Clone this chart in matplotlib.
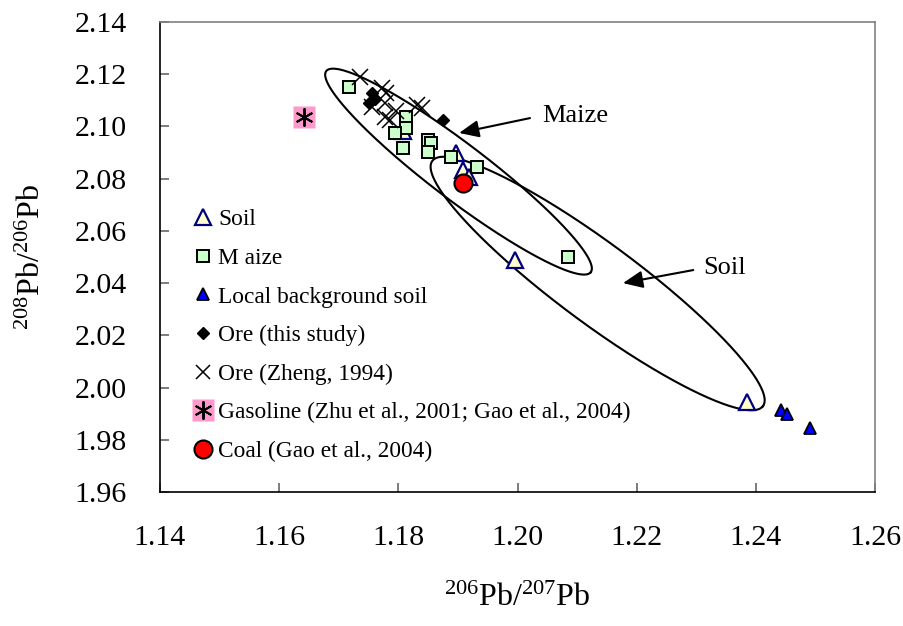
import numpy as np
import matplotlib
matplotlib.use('Agg')
import matplotlib.pyplot as plt
from matplotlib.lines import Line2D
from matplotlib.legend_handler import HandlerTuple

plt.rcParams['font.family'] = ['Liberation Serif', 'DejaVu Serif']
plt.rcParams['mathtext.fontset'] = 'custom'
plt.rcParams['mathtext.rm'] = 'Liberation Serif'
plt.rcParams['mathtext.it'] = 'Liberation Serif:italic'
plt.rcParams['mathtext.bf'] = 'Liberation Serif:bold'

# ---------------- data ----------------
soil_x = [1.1896, 1.1909, 1.1919, 1.1808, 1.1996, 1.2386]
soil_y = [2.0897, 2.0835, 2.0808, 2.0983, 2.0488, 1.9946]

maize_x = [1.1718, 1.1813, 1.1813, 1.1794, 1.1807, 1.1849, 1.1854, 1.1850, 1.1888, 1.1932, 1.2085]
maize_y = [2.1152, 2.1037, 2.0993, 2.0976, 2.0916, 2.0948, 2.0938, 2.0901, 2.0884, 2.0846, 2.0501]

local_x = [1.2442, 1.2453, 1.2491]
local_y = [1.9915, 1.9899, 1.9845]

ore_x = [1.1756, 1.1761, 1.1751, 1.1875]
ore_y = [2.1128, 2.1105, 2.1090, 2.1025]

zheng_x = [1.1736, 1.1772, 1.1780, 1.1755, 1.1778, 1.1778, 1.1786, 1.1796, 1.1831, 1.1839]
zheng_y = [2.1190, 2.1146, 2.1128, 2.1076, 2.1090, 2.1037, 2.1025, 2.1059, 2.1082, 2.1069]

gas_x = [1.1642]
gas_y = [2.1037]

coal_x = [1.1909]
coal_y = [2.0783]

labels = ['Soil', 'M aize', 'Local background soil', 'Ore (this study)',
          'Ore (Zheng, 1994)', 'Gasoline (Zhu et al., 2001; Gao et al., 2004)',
          'Coal (Gao et al., 2004)']

x_ticks = [1.14, 1.16, 1.18, 1.20, 1.22, 1.24, 1.26]
y_ticks = [1.96, 1.98, 2.00, 2.02, 2.04, 2.06, 2.08, 2.10, 2.12, 2.14]

# ellipses: centre, major semi-axis vector, conjugate minor semi-axis vector (data units)
maize_ell = dict(c=(1.1901, 2.0827), a=(0.0222, -0.0385), b=(0.00284, 0.00854))
soil_ell = dict(c=(1.21345, 2.03985), a=(0.02775, -0.04695), b=(0.00399, 0.01235))

# ---------------- figure ----------------
fig = plt.figure(figsize=(9.04, 6.26), dpi=100)
ax = fig.add_axes([160/904, 134/626, 715/904, 470/626])

t = np.linspace(0, 2*np.pi, 500)
for e in (maize_ell, soil_ell):
    ex = e['c'][0] + e['a'][0]*np.cos(t) + e['b'][0]*np.sin(t)
    ey = e['c'][1] + e['a'][1]*np.cos(t) + e['b'][1]*np.sin(t)
    ax.plot(ex, ey, color='black', lw=1.5, zorder=2)

ax.plot(soil_x, soil_y, ls='none', marker='^', ms=12, mfc='#FFFFCC', mec='#000080', mew=1.6, zorder=3)
ax.plot(maize_x, maize_y, ls='none', marker='s', ms=8, mfc='#CCFFCC', mec='black', mew=1.4, zorder=4)
ax.plot(local_x, local_y, ls='none', marker='^', ms=9, mfc='#0000FF', mec='black', mew=1.3, zorder=5)
ax.plot(ore_x, ore_y, ls='none', marker='D', ms=6.5, mfc='black', mec='black', mew=1, zorder=6)
ax.plot(zheng_x, zheng_y, ls='none', marker='x', ms=12, mec='black', mew=1.1, zorder=7)
ax.plot(gas_x, gas_y, ls='none', marker='s', ms=16, mfc='#FF99CC', mec='none', zorder=8)
ax.plot(gas_x, gas_y, ls='none', marker=(6, 2, 0), ms=13, mec='black', mew=1.4, zorder=9)
ax.plot(coal_x, coal_y, ls='none', marker='o', ms=13, mfc='#FF0000', mec='black', mew=1.5, zorder=10)

# annotations
ax.annotate('', xy=(1.1902, 2.0975), xytext=(1.2021, 2.1032),
            arrowprops=dict(arrowstyle='-|>,head_length=0.8,head_width=0.35',
                            mutation_scale=15, lw=1.5, color='black', shrinkA=0, shrinkB=0), zorder=11)
ax.text(1.2041, 2.104, 'Maize', fontsize=19, ha='left', va='center')
ax.annotate('', xy=(1.2177, 2.0400), xytext=(1.2295, 2.0450),
            arrowprops=dict(arrowstyle='-|>,head_length=0.8,head_width=0.35',
                            mutation_scale=15, lw=1.5, color='black', shrinkA=0, shrinkB=0), zorder=11)
ax.text(1.2311, 2.0458, 'Soil', fontsize=19, ha='left', va='center')

# axes styling
ax.set_xlim(1.14, 1.26)
ax.set_ylim(1.96, 2.14)
ax.set_xticks(x_ticks)
ax.set_yticks(y_ticks)
ax.set_xticklabels([f'{v:.2f}' for v in x_ticks])
ax.set_yticklabels([f'{v:.2f}' for v in y_ticks])
ax.tick_params(direction='in', length=6.5, width=1.2, color='#666666', labelsize=21.5)
ax.tick_params(axis='x', pad=24)
ax.tick_params(axis='y', pad=24)
for s in ('left', 'bottom'):
    ax.spines[s].set_color('black')
    ax.spines[s].set_linewidth(1.2)
for s in ('top', 'right'):
    ax.spines[s].set_color('#808080')
    ax.spines[s].set_linewidth(1.2)

ax.set_xlabel(r'$^{206}$Pb/$^{207}$Pb', fontsize=23)
ax.set_ylabel(r'$^{208}$Pb/$^{206}$Pb', fontsize=23)
ax.xaxis.set_label_coords(0.5, -0.195)
ax.yaxis.set_label_coords(-0.158, 0.5)

# legend
h_soil = Line2D([], [], ls='none', marker='^', ms=12, mfc='#FFFFCC', mec='#000080', mew=1.6)
h_maize = Line2D([], [], ls='none', marker='s', ms=8, mfc='#CCFFCC', mec='black', mew=1.4)
h_local = Line2D([], [], ls='none', marker='^', ms=9, mfc='#0000FF', mec='black', mew=1.3)
h_ore = Line2D([], [], ls='none', marker='D', ms=6.5, mfc='black', mec='black')
h_zheng = Line2D([], [], ls='none', marker='x', ms=10, mec='black', mew=1.1)
h_gas1 = Line2D([], [], ls='none', marker='s', ms=16, mfc='#FF99CC', mec='none')
h_gas2 = Line2D([], [], ls='none', marker=(6, 2, 0), ms=13, mec='black', mew=1.4)
h_coal = Line2D([], [], ls='none', marker='o', ms=13, mfc='#FF0000', mec='black', mew=1.5)

leg = ax.legend([h_soil, h_maize, h_local, h_ore, h_zheng, (h_gas1, h_gas2), h_coal], labels,
                handler_map={tuple: HandlerTuple(ndivide=1, pad=0)},
                loc='upper left', bbox_to_anchor=(0.0477, 0.602), borderaxespad=0, borderpad=0,
                frameon=False, fontsize=16.8, handlelength=0.8, handletextpad=0.22,
                labelspacing=0.74)

fig.savefig('out.png', dpi=100)
